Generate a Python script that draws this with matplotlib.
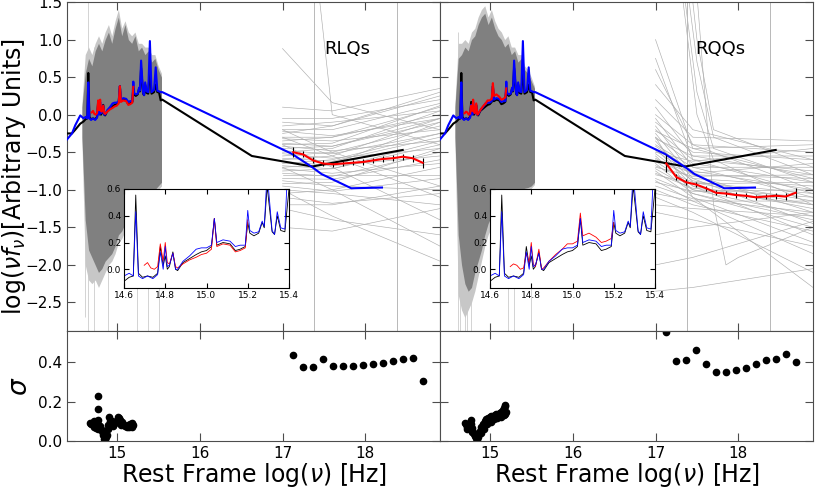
import matplotlib
matplotlib.use("Agg")
import matplotlib.pyplot as plt

# ---- mean optical composite (shared by both panels): log nu, log nu f_nu ----
opt_x = [14.40, 14.46, 14.50, 14.56, 14.60, 14.625, 14.645, 14.657, 14.67, 14.69,
         14.714, 14.74, 14.763, 14.776, 14.79, 14.80, 14.81, 14.82, 14.837, 14.85,
         14.86, 14.886, 14.918, 14.95, 14.975, 15.00, 15.024, 15.038, 15.05, 15.08,
         15.114, 15.14, 15.163, 15.188, 15.20, 15.21, 15.23, 15.253, 15.27, 15.28,
         15.294, 15.318, 15.33, 15.343, 15.36, 15.38, 15.40, 15.42, 15.45, 15.47,
         15.49, 15.51, 15.53, 15.55]
black_opt = [-0.25, -0.25, -0.20, -0.12, -0.09, -0.06, -0.05, 0.555, -0.03, -0.06,
             -0.05, -0.06, -0.03, 0.17, 0.03, 0.10, 0.00, 0.02, 0.13, 0.00,
             -0.01, 0.05, 0.08, 0.11, 0.13, 0.14, 0.17, 0.38, 0.18, 0.20,
             0.19, 0.14, 0.15, 0.17, 0.35, 0.27, 0.25, 0.27, 0.35, 0.31,
             0.62, 0.28, 0.26, 0.40, 0.29, 0.28, 0.60, 0.28, 0.30, 0.40,
             0.30, 0.30, 0.19, 0.20]
blue_opt = [-0.33, -0.25, -0.14, -0.01, -0.05, -0.03, -0.05, 0.43, -0.05, -0.07,
            -0.05, -0.07, -0.04, 0.13, 0.00, 0.17, 0.02, 0.03, 0.12, 0.00,
            0.00, 0.06, 0.10, 0.15, 0.16, 0.16, 0.18, 0.38, 0.20, 0.22,
            0.21, 0.17, 0.18, 0.18, 0.44, 0.29, 0.27, 0.28, 0.36, 0.32,
            0.72, 0.29, 0.26, 0.43, 0.31, 0.30, 0.98, 0.30, 0.33, 0.63,
            0.32, 0.31, 0.30, 0.30]
black_xray_x = [16.63, 17.36, 18.45]
black_xray_y = [-0.55, -0.69, -0.47]
blue_xray_x = [17.11, 17.36, 17.47, 17.83, 18.20]
blue_xray_y = [-0.52, -0.70, -0.79, -0.98, -0.97]

# ---- sample composites (red) ----
red_opt_x = [14.698, 14.714, 14.73, 14.747, 14.763, 14.776, 14.79, 14.80, 14.81, 14.82,
             14.837, 14.85, 14.86, 14.886, 14.918, 14.95, 14.975, 15.00, 15.024, 15.038,
             15.05, 15.08, 15.114, 15.14, 15.163, 15.188, 15.20]
rlq_red_opt = [0.03, 0.05, 0.01, 0.00, 0.02, 0.19, 0.06, 0.20, 0.05, 0.04,
               0.12, 0.02, 0.01, 0.04, 0.07, 0.09, 0.11, 0.12, 0.15, 0.38,
               0.17, 0.19, 0.18, 0.13, 0.14, 0.16, 0.37]
rqq_red_opt = [0.02, 0.04, 0.03, 0.00, 0.01, 0.12, 0.05, 0.20, 0.04, 0.02,
               0.15, 0.00, 0.01, 0.06, 0.11, 0.15, 0.19, 0.19, 0.21, 0.42,
               0.25, 0.27, 0.24, 0.20, 0.21, 0.23, 0.35]

xray_x = [17.13, 17.25, 17.37, 17.49, 17.61, 17.73, 17.85, 17.97, 18.09, 18.21,
          18.33, 18.45, 18.57, 18.69]
rlq_red_xray = [-0.50, -0.53, -0.61, -0.65, -0.66, -0.65, -0.64, -0.63, -0.61, -0.59,
                -0.58, -0.56, -0.58, -0.64]
rlq_red_err = [0.07, 0.04, 0.04, 0.04, 0.035, 0.035, 0.035, 0.035, 0.035, 0.035,
               0.04, 0.04, 0.045, 0.067]
rqq_red_xray = [-0.65, -0.83, -0.90, -0.93, -0.98, -1.04, -1.05, -1.07, -1.08, -1.10,
                -1.09, -1.08, -1.09, -1.04]
rqq_red_err = [0.115, 0.045, 0.04, 0.035, 0.035, 0.035, 0.035, 0.035, 0.035, 0.035,
               0.035, 0.04, 0.045, 0.07]

# ---- dispersion sigma ----
rlq_sig_xray = [0.44, 0.376, 0.376, 0.419, 0.381, 0.381, 0.381, 0.385, 0.39, 0.398,
                0.407, 0.419, 0.424, 0.304]
rqq_sig_xray = [0.553, 0.405, 0.41, 0.465, 0.393, 0.349, 0.349, 0.36, 0.374, 0.39,
                0.41, 0.417, 0.443, 0.404]
rlq_sig_opt_x = [14.68, 14.69, 14.70, 14.71, 14.72, 14.73, 14.74, 14.75, 14.76, 14.77,
                 14.77, 14.77, 14.78, 14.79, 14.80, 14.81, 14.82, 14.83, 14.84, 14.85,
                 14.86, 14.87, 14.88, 14.89, 14.90, 14.91, 14.92, 14.93, 14.94, 14.96,
                 14.98, 15.00, 15.02, 15.03, 15.04, 15.06, 15.08, 15.10, 15.12, 15.14,
                 15.16, 15.18, 15.20, 14.72, 14.75, 14.78, 14.95, 15.05, 15.15, 15.19]
rlq_sig_opt_y = [0.094, 0.085, 0.09, 0.085, 0.10, 0.08, 0.075, 0.09, 0.095, 0.231,
                 0.162, 0.105, 0.08, 0.07, 0.075, 0.06, 0.05, 0.04, 0.03, 0.01,
                 0.005, 0.02, 0.03, 0.06, 0.08, 0.12, 0.10, 0.09, 0.10, 0.095,
                 0.09, 0.10, 0.12, 0.115, 0.105, 0.095, 0.085, 0.075, 0.07, 0.08,
                 0.085, 0.09, 0.08, 0.07, 0.065, 0.06, 0.075, 0.08, 0.07, 0.07]
rqq_sig_opt_x = [14.70, 14.71, 14.72, 14.73, 14.75, 14.76, 14.77, 14.78, 14.79, 14.80,
                 14.81, 14.82, 14.83, 14.84, 14.85, 14.86, 14.87, 14.88, 14.90, 14.92,
                 14.94, 14.96, 14.98, 15.00, 15.02, 15.04, 15.06, 15.08, 15.10, 15.12,
                 15.14, 15.16, 15.17, 15.18, 15.19, 15.20, 15.19, 14.72, 14.76, 14.79,
                 14.89, 14.93, 14.97, 15.01, 15.05, 15.09, 15.13, 15.17]
rqq_sig_opt_y = [0.094, 0.085, 0.07, 0.075, 0.08, 0.09, 0.106, 0.085, 0.065, 0.045,
                 0.035, 0.025, 0.02, 0.015, 0.004, 0.02, 0.035, 0.05, 0.07, 0.085,
                 0.10, 0.11, 0.115, 0.122, 0.125, 0.128, 0.132, 0.137, 0.14, 0.145,
                 0.15, 0.16, 0.17, 0.18, 0.185, 0.15, 0.14, 0.06, 0.065, 0.045,
                 0.04, 0.06, 0.085, 0.095, 0.11, 0.115, 0.12, 0.13]

# ---- spread of individual optical spectra (dark core and light halo) ----
band_x = [14.58, 14.62, 14.66, 14.70, 14.74, 14.78, 14.82, 14.86, 14.90, 14.94,
          14.98, 15.02, 15.06, 15.10, 15.14, 15.18, 15.22, 15.26, 15.30, 15.34,
          15.38, 15.42, 15.46, 15.50, 15.54]
rlq_core_hi = [0.10, 0.55, 0.75, 0.65, 0.85, 0.95, 0.85, 1.00, 1.10, 0.95,
               1.15, 1.30, 1.05, 1.20, 1.00, 0.95, 1.05, 0.85, 0.90, 0.80,
               0.85, 0.70, 0.75, 0.60, 0.50]
rlq_core_lo = [-0.30, -1.40, -1.80, -1.90, -2.00, -2.10, -2.05, -1.95, -1.90, -1.85,
               -1.75, -1.60, -1.55, -1.45, -1.40, -1.30, -1.25, -1.15, -1.10, -1.10,
               -1.05, -1.00, -1.00, -0.95, -0.90]
rlq_halo_hi = [0.15, 0.80, 0.90, 0.80, 0.95, 1.05, 0.95, 1.10, 1.20, 1.05,
               1.25, 1.40, 1.15, 1.25, 1.10, 1.05, 1.10, 0.95, 0.95, 0.90,
               0.90, 0.80, 0.80, 0.65, 0.55]
rlq_halo_lo = [-0.35, -2.00, -2.20, -2.25, -2.20, -2.30, -2.20, -2.10, -2.00, -1.95,
               -1.85, -1.70, -1.65, -1.55, -1.45, -1.40, -1.30, -1.20, -1.15, -1.15,
               -1.10, -1.05, -1.05, -1.00, -0.95]
rqq_core_hi = [0.10, 0.75, 0.80, 0.90, 0.85, 1.00, 1.05, 1.20, 1.30, 1.35,
               1.20, 1.30, 1.15, 1.05, 1.00, 0.90, 0.95, 0.80, 0.85, 0.70,
               0.75, 0.60, 0.55, 0.45, 0.35]
rqq_core_lo = [-0.30, -1.60, -2.00, -2.25, -2.35, -2.30, -2.10, -1.95, -1.80, -1.60,
               -1.45, -1.35, -1.30, -1.25, -1.20, -1.15, -1.10, -1.08, -1.05, -1.00,
               -1.00, -0.98, -0.97, -0.95, -0.90]
rqq_halo_hi = [0.15, 0.95, 0.95, 1.00, 0.95, 1.10, 1.15, 1.30, 1.40, 1.45,
               1.30, 1.40, 1.25, 1.15, 1.10, 1.00, 1.05, 0.90, 0.90, 0.80,
               0.80, 0.65, 0.60, 0.50, 0.38]
rqq_halo_lo = [-0.35, -2.40, -2.60, -2.70, -2.60, -2.50, -2.35, -2.15, -1.95, -1.75,
               -1.60, -1.50, -1.40, -1.35, -1.30, -1.25, -1.20, -1.15, -1.10, -1.08,
               -1.06, -1.03, -1.00, -0.98, -0.93]
# a few spectra that reach far beyond the spread
rlq_spikes = [14.62, 14.65, 14.72, 14.89, 15.24, 15.38, 15.51]
rlq_spike_lo = [-2.70, -2.88, -2.88, -2.88, -2.88, -2.88, -2.88]
rlq_spike_hi = [0.40, 1.50, 0.90, 0.80, 0.80, 0.60, 0.40]
rqq_spikes = [14.62, 14.64, 14.70, 14.73, 14.78, 15.22, 15.29, 15.50]
rqq_spike_lo = [-2.88, -2.88, -2.88, -2.88, -2.88, -2.88, -2.88, -2.88]
rqq_spike_hi = [1.10, 0.90, 0.80, 0.80, 1.00, 0.80, 0.70, 0.40]

# ---- individual X-ray power laws, y at the knots ----
rlq_knots = [17.0, 17.6, 18.9]
rlq_gray = [[0.10, 0.05, 0.35], [-0.05, -0.05, 0.20], [-0.10, -0.15, 0.25],
            [-0.15, -0.10, 0.05], [-0.20, -0.20, 0.15], [-0.22, -0.28, -0.05],
            [-0.25, -0.15, 0.30], [-0.30, -0.30, 0.10], [-0.32, -0.35, -0.20],
            [-0.35, -0.30, 0.00], [-0.38, -0.42, -0.10], [-0.40, -0.38, 0.12],
            [-0.42, -0.48, -0.35], [-0.45, -0.42, -0.05], [-0.48, -0.52, -0.25],
            [-0.50, -0.45, 0.05], [-0.52, -0.58, -0.45], [-0.55, -0.50, -0.15],
            [-0.58, -0.62, -0.30], [-0.60, -0.55, -0.05], [-0.62, -0.68, -0.55],
            [-0.65, -0.60, -0.25], [-0.68, -0.72, -0.40], [-0.70, -0.66, -0.10],
            [-0.72, -0.78, -0.65], [-0.75, -0.72, -0.35], [-0.78, -0.82, -0.50],
            [-0.80, -0.80, -0.80], [-0.85, -0.86, -0.60], [-0.88, -0.95, -1.00],
            [-0.92, -0.90, -0.45], [-0.95, -1.02, -0.85], [-1.00, -1.05, -1.20],
            [-1.05, -1.00, -0.70], [-1.10, -1.18, -1.05], [-1.20, -1.20, -0.95],
            [-1.25, -1.40, -1.60], [-0.40, -0.70, -1.40], [-0.70, -1.00, -1.75],
            [-0.30, -0.55, -1.10], [-1.50, -1.55, -1.25], [-1.00, -1.35, -1.95],
            [0.88, 0.16, -0.20], [-0.20, -0.50, -0.95], [6.00, 0.00, -0.40]]
rqq_knots = [17.0, 17.45, 18.9]
rqq_gray = [[0.20, -0.30, -0.35], [0.10, -0.55, -0.80], [0.00, -0.40, -0.50],
            [-0.05, -0.70, -1.10], [-0.10, -0.50, -0.60], [-0.15, -0.80, -1.30],
            [-0.20, -0.60, -0.75], [-0.22, -0.45, -0.40], [-0.25, -0.85, -1.45],
            [-0.30, -0.65, -0.90], [-0.32, -0.55, -0.55], [-0.35, -0.90, -1.20],
            [-0.40, -0.70, -0.70], [-0.42, -0.75, -1.00], [-0.45, -0.95, -1.60],
            [-0.48, -0.80, -0.85], [-0.50, -0.62, -0.45], [-0.52, -0.88, -1.15],
            [-0.55, -1.00, -1.35], [-0.58, -0.85, -0.95], [-0.60, -0.78, -0.65],
            [-0.62, -0.95, -1.25], [-0.65, -1.05, -1.50], [-0.68, -0.90, -1.05],
            [-0.70, -0.82, -0.80], [-0.72, -1.00, -1.20], [-0.75, -1.10, -1.70],
            [-0.78, -0.98, -1.10], [-0.80, -0.92, -0.90], [-0.85, -1.05, -1.40],
            [-0.88, -1.15, -1.85], [-0.90, -1.02, -1.00], [-0.95, -1.12, -1.30],
            [-1.00, -1.20, -1.55], [-1.05, -1.15, -1.15], [-1.10, -1.30, -2.10],
            [-1.20, -1.25, -1.35], [-1.30, -1.40, -1.75], [0.40, -0.20, -0.60],
            [0.60, -0.40, -1.00], [-2.00, -1.90, -1.42], [-2.35, -2.30, -2.05],
            [-0.30, -1.10, -2.30], [-1.60, -1.50, -1.30], [1.00, -0.45, -0.85],
            [0.75, -0.60, -1.05]]
rqq_steep_x = [17.30, 17.50, 17.70, 18.90]
rqq_steep = [[2.0, 0.3, -0.45, -0.90], [2.4, 0.7, -0.30, -0.80],
             [3.0, 1.0, -0.20, -0.70], [1.8, 0.0, -0.60, -1.20]]
rqq_dip_x = [17.50, 17.70, 17.85, 18.00, 18.90]
rqq_dip_y = [1.60, -1.20, -2.00, -1.90, -1.50]

xray_marks = [17.38, 18.38]

panels = [
    dict(name="RLQs", red_opt=rlq_red_opt, red_x=rlq_red_xray, red_e=rlq_red_err,
         sig_x=rlq_sig_xray, sox=rlq_sig_opt_x, soy=rlq_sig_opt_y,
         chi=rlq_core_hi, clo=rlq_core_lo, hhi=rlq_halo_hi, hlo=rlq_halo_lo,
         sp=rlq_spikes, splo=rlq_spike_lo, sphi=rlq_spike_hi,
         knots=rlq_knots, gray=rlq_gray),
    dict(name="RQQs", red_opt=rqq_red_opt, red_x=rqq_red_xray, red_e=rqq_red_err,
         sig_x=rqq_sig_xray, sox=rqq_sig_opt_x, soy=rqq_sig_opt_y,
         chi=rqq_core_hi, clo=rqq_core_lo, hhi=rqq_halo_hi, hlo=rqq_halo_lo,
         sp=rqq_spikes, splo=rqq_spike_lo, sphi=rqq_spike_hi,
         knots=rqq_knots, gray=rqq_gray),
]

fig = plt.figure(figsize=(8.3, 4.98), dpi=100)
W, H = 830.0, 498.0
spine_c = "0.3"
line_c = "0.68"


def style(ax, size=11, length=6):
    ax.tick_params(direction="in", top=True, right=True, length=length,
                   labelsize=size, color=spine_c)
    for s in ax.spines.values():
        s.set_color(spine_c)


for i, p in enumerate(panels):
    left = (67 + i * 373) / W
    top_ax = fig.add_axes([left, 1 - 331 / H, 373 / W, 329 / H])
    bot_ax = fig.add_axes([left, 1 - 441 / H, 373 / W, 110 / H])

    # gray spread of individual spectra
    top_ax.vlines(p["sp"], p["splo"], p["sphi"], color="0.8", lw=0.6, zorder=1)
    top_ax.fill_between(band_x, p["hlo"], p["hhi"], color="0.78", lw=0, zorder=1)
    top_ax.fill_between(band_x, p["clo"], p["chi"], color="0.5", lw=0, zorder=1)
    for ys in p["gray"]:
        top_ax.plot(p["knots"], ys, color=line_c, lw=0.45, zorder=1)
    if i == 1:
        for ys in rqq_steep:
            top_ax.plot(rqq_steep_x, ys, color=line_c, lw=0.45, zorder=1)
        top_ax.plot(rqq_dip_x, rqq_dip_y, color=line_c, lw=0.45, zorder=1)
    for xm in xray_marks:
        top_ax.axvline(xm, color="0.72", lw=0.7, zorder=1)

    top_ax.plot(opt_x + black_xray_x, black_opt + black_xray_y, color="k", lw=1.5, zorder=3)
    top_ax.plot(opt_x + blue_xray_x, blue_opt + blue_xray_y, color="blue", lw=1.5, zorder=4)
    top_ax.plot(red_opt_x, p["red_opt"], color="red", lw=1.5, zorder=5)
    top_ax.errorbar(xray_x, p["red_x"], yerr=p["red_e"], color="red", ecolor="k",
                    elinewidth=0.8, lw=1.5, capsize=0, zorder=5)
    top_ax.text(17.78, 0.88, p["name"], fontsize=13, ha="center", va="center")

    top_ax.set_xlim(14.4, 18.9)
    top_ax.set_ylim(-2.88, 1.5)
    top_ax.set_xticks([15, 16, 17, 18])
    top_ax.set_yticks([-2.5, -2.0, -1.5, -1.0, -0.5, 0.0, 0.5, 1.0, 1.5])
    top_ax.tick_params(labelbottom=False)
    style(top_ax)

    bot_ax.plot(xray_x, p["sig_x"], "o", color="k", ms=4.5)
    bot_ax.plot(p["sox"], p["soy"], "o", color="k", ms=4.5)
    bot_ax.set_xlim(14.4, 18.9)
    bot_ax.set_ylim(0, 0.56)
    bot_ax.set_xticks([15, 16, 17, 18])
    bot_ax.set_yticks([0.0, 0.2, 0.4])
    bot_ax.set_xlabel(r"Rest Frame log($\nu$) [Hz]", fontsize=17, labelpad=0)
    style(bot_ax)

    if i == 0:
        top_ax.set_ylabel(r"log($\nu f_\nu$)[Arbitrary Units]", fontsize=17)
        top_ax.yaxis.set_label_coords(-0.105, 0.47)
        bot_ax.set_ylabel(r"$\sigma$", fontsize=19)
        bot_ax.yaxis.set_label_coords(-0.092, 0.5)
    else:
        top_ax.tick_params(labelleft=False)
        bot_ax.tick_params(labelleft=False)

    # inset zoom on the optical composites
    ins_left = (124 + i * 366) / W
    ins = fig.add_axes([ins_left, 1 - 288 / H, 165 / W, 99 / H])
    ins.plot(opt_x, black_opt, color="k", lw=0.6)
    ins.plot(red_opt_x, p["red_opt"], color="red", lw=0.6)
    ins.plot(opt_x, blue_opt, color="blue", lw=0.6)
    ins.set_xlim(14.6, 15.4)
    ins.set_ylim(-0.14, 0.6)
    ins.set_xticks([14.6, 14.8, 15.0, 15.2, 15.4])
    ins.set_yticks([0.0, 0.2, 0.4, 0.6])
    ins.tick_params(direction="in", top=True, right=True, length=3.5,
                    labelsize=6.5, pad=2)

fig.savefig("out.png", dpi=100)
